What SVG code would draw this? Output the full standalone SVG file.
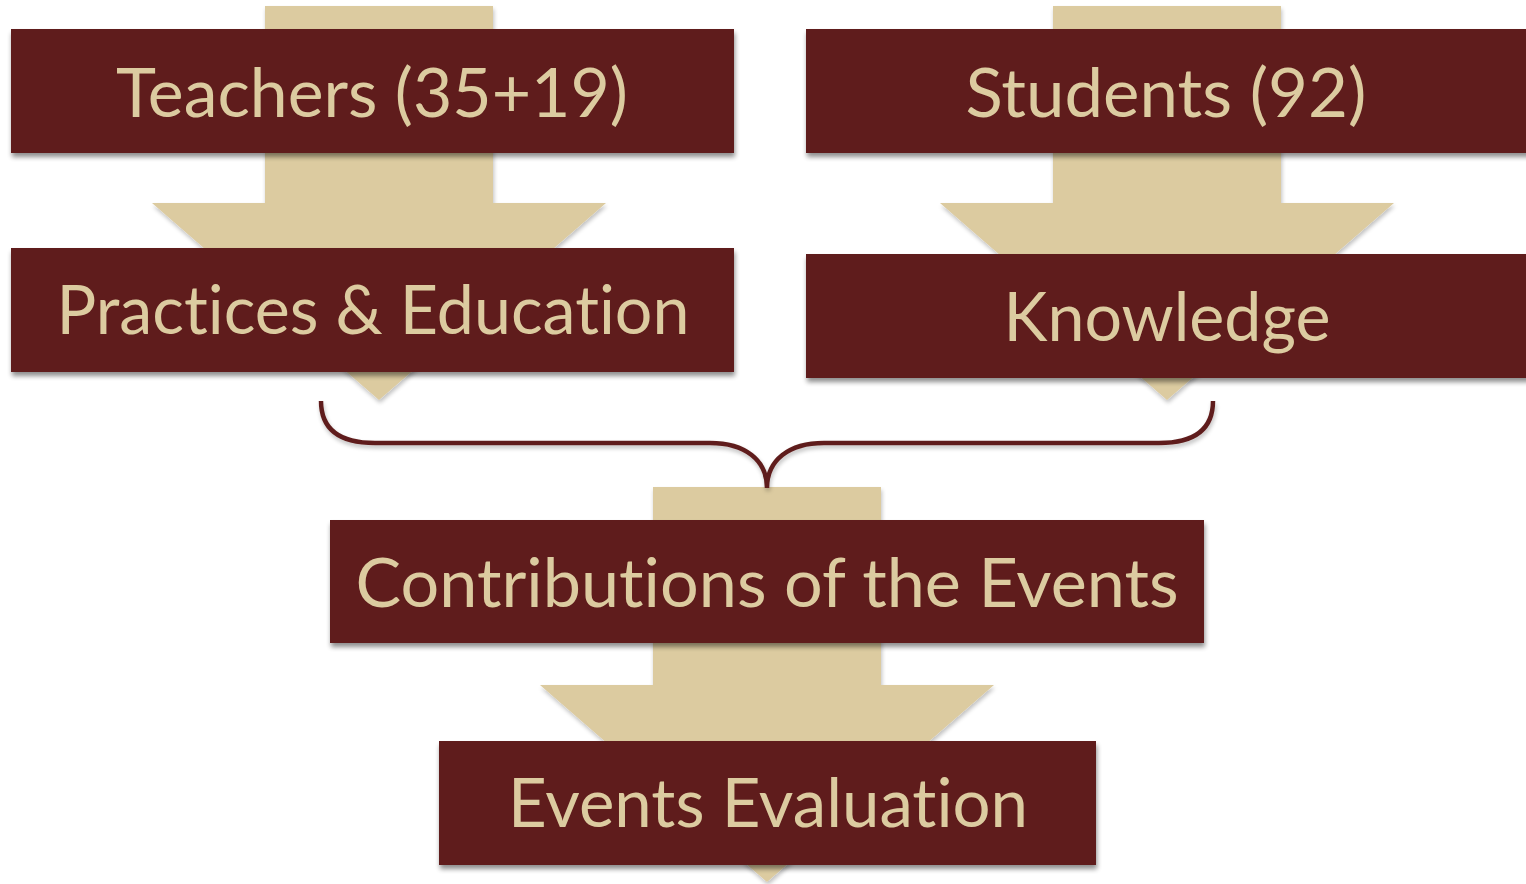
<svg xmlns="http://www.w3.org/2000/svg" width="1526" height="884" viewBox="0 0 1526 884">
  <defs>
    <filter id="shadow" x="-10%" y="-20%" width="120%" height="150%">
      <feGaussianBlur in="SourceAlpha" stdDeviation="2.5"/>
      <feOffset dx="1" dy="4" result="b"/>
      <feComponentTransfer><feFuncA type="linear" slope="0.45"/></feComponentTransfer>
      <feMerge><feMergeNode/><feMergeNode in="SourceGraphic"/></feMerge>
    </filter>
    <filter id="softshadow" x="-10%" y="-10%" width="120%" height="130%">
      <feGaussianBlur in="SourceAlpha" stdDeviation="2"/>
      <feOffset dx="1" dy="3" result="b"/>
      <feComponentTransfer><feFuncA type="linear" slope="0.25"/></feComponentTransfer>
      <feMerge><feMergeNode/><feMergeNode in="SourceGraphic"/></feMerge>
    </filter>
  </defs>
  <style>
    .box { fill: #5f1e1c; filter: url(#shadow); }
    .arrow { fill: #dccba0; filter: url(#softshadow); }
    .label { fill: #dccba0; font-family: Lato, "Liberation Sans", sans-serif; font-size: 68px; text-anchor: middle;
             font-variant-ligatures: none; font-feature-settings: "liga" 0, "clig" 0, "dlig" 0, "calt" 0; }
    .brace { fill: none; stroke: #5f1e1c; stroke-width: 4.5; filter: url(#softshadow); }
  </style>
  <rect width="1526" height="884" fill="#ffffff"/>

  <!-- block arrows running behind the boxes, plus the joining brace -->
  <g id="connectors">
    <polygon class="arrow" points="265,6 493,6 493,203 606,203 379,400 152,203 265,203"/>
    <polygon class="arrow" points="1053,6 1281,6 1281,203 1394,203 1167,400 940,203 1053,203"/>
    <polygon class="arrow" points="653,487 881,487 881,685 994,685 767,882 540,685 653,685"/>
    <path class="brace" d="M321,401 C321,428 338,443 375,443 L710,443 C745,443 767,460 767,488 C767,460 789,443 824,443 L1159,443 C1196,443 1213,428 1213,401"/>
  </g>

  <g id="teachers">
    <rect class="box" x="11" y="29" width="723" height="124"/>
    <text class="label" x="372" y="117" textLength="512" lengthAdjust="spacingAndGlyphs">Teachers (35+19)</text>
  </g>
  <g id="practices">
    <rect class="box" x="11" y="248" width="723" height="124"/>
    <text class="label" x="373" y="334" textLength="633" lengthAdjust="spacingAndGlyphs">Practices &amp; Education</text>
  </g>
  <g id="students">
    <rect class="box" x="806" y="29" width="730" height="124"/>
    <text class="label" x="1166" y="117" textLength="401" lengthAdjust="spacingAndGlyphs">Students (92)</text>
  </g>
  <g id="knowledge">
    <rect class="box" x="806" y="254" width="730" height="124"/>
    <text class="label" x="1167" y="341" textLength="327" lengthAdjust="spacingAndGlyphs">Knowledge</text>
  </g>
  <g id="contributions">
    <rect class="box" x="330" y="520" width="874" height="123"/>
    <text class="label" x="767" y="607" textLength="823" lengthAdjust="spacingAndGlyphs">Contributions of the Events</text>
  </g>
  <g id="evaluation">
    <rect class="box" x="439" y="741" width="657" height="124"/>
    <text class="label" x="768" y="827" textLength="520" lengthAdjust="spacingAndGlyphs">Events Evaluation</text>
  </g>
</svg>
